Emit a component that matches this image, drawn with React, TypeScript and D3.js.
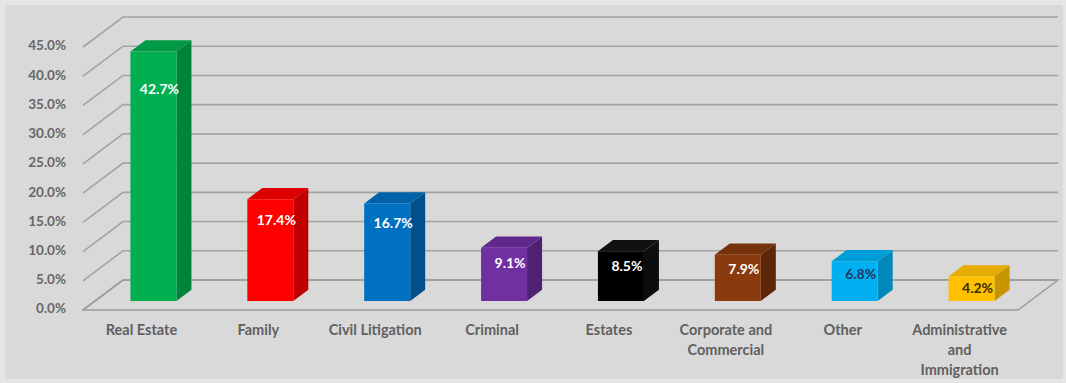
import React from "react";
import * as d3 from "d3";

const categories = [
  "Real Estate",
  "Family",
  "Civil Litigation",
  "Criminal",
  "Estates",
  "Corporate and Commercial",
  "Other",
  "Administrative and Immigration",
];
const categoryLines = [
  ["Real Estate"],
  ["Family"],
  ["Civil Litigation"],
  ["Criminal"],
  ["Estates"],
  ["Corporate and", "Commercial"],
  ["Other"],
  ["Administrative", "and", "Immigration"],
];
const values = [42.7, 17.4, 16.7, 9.1, 8.5, 7.9, 6.8, 4.2];
const frontColors = ["#00b050", "#ff0000", "#0070c0", "#7030a0", "#000000", "#8a3b0e", "#00b0f0", "#ffc000"];
const sideColors = ["#00843c", "#c00000", "#00508c", "#4e2173", "#0d0d0d", "#5c2608", "#0088bb", "#c79600"];
const topColors = ["#009944", "#dd0000", "#0062a8", "#60288c", "#111111", "#76320b", "#009ed8", "#e6ad00"];
const labelColors = ["#ffffff", "#ffffff", "#ffffff", "#ffffff", "#ffffff", "#ffffff", "#1f3864", "#3b2a00"];
const yTicks = [0, 5, 10, 15, 20, 25, 30, 35, 40, 45];

const W = 1066;
const H = 383;
const FRONT_LEFT = 83;
const FRONT_RIGHT = 1018;
const FLOOR_FRONT_Y = 310;
const DEPTH_X = 40;
const DEPTH_Y = -30;
const BAR_D0 = 0.3;
const BAR_D1 = 0.675;
const BAR_W = 46;

export default function App() {
  const x = d3.scaleBand<string>().domain(categories).range([FRONT_LEFT, FRONT_RIGHT]).padding(0);
  const y = d3.scaleLinear().domain([0, 45]).range([FLOOR_FRONT_Y, 47]);
  const P = (px: number, v: number, d: number): [number, number] => [px + d * DEPTH_X, y(v) + d * DEPTH_Y];
  const pts = (arr: [number, number][]) => arr.map((p) => p.join(",")).join(" ");
  const font = "Lato, 'Open Sans', sans-serif";

  return (
    <div style={{ width: W, height: H, position: "absolute", left: 0, top: 0 }}>
      <svg width={W} height={H} style={{ display: "block" }}>
        <rect x={0} y={0} width={W} height={H} fill="#e6e6e6" />
        <rect x={5} y={5} width={1058} height={374} fill="#d9d9d9" />
        {/* gridlines: left wall diagonals + back wall horizontals */}
        {yTicks.map((t) => {
          const a = P(FRONT_LEFT, t, 0);
          const b = P(FRONT_LEFT, t, 1);
          const c = P(FRONT_RIGHT, t, 1);
          return (
            <polyline
              key={t}
              points={pts([a, b, c])}
              fill="none"
              stroke="#a3a3a3"
              strokeWidth={1.6}
            />
          );
        })}
        {/* floor outline */}
        <polygon
          points={pts([P(FRONT_LEFT, 0, 0), P(FRONT_RIGHT, 0, 0), P(FRONT_RIGHT, 0, 1), P(FRONT_LEFT, 0, 1)])}
          fill="none"
          stroke="#9a9a9a"
          strokeWidth={1.4}
        />
        {/* y tick labels */}
        {yTicks.map((t) => (
          <text
            key={"yl" + t}
            x={66}
            y={y(t)}
            textAnchor="end"
            dominantBaseline="middle"
            fontFamily={font}
            fontWeight="bold"
            fontSize={13.5}
            fill="#666666"
          >
            {t.toFixed(1) + "%"}
          </text>
        ))}
        {/* bars */}
        {categories.map((c, i) => {
          const cx = (x(c) as number) + x.bandwidth() / 2;
          const x0 = cx - BAR_W / 2;
          const x1 = cx + BAR_W / 2;
          const v = values[i];
          const f0 = P(x0, 0, BAR_D0);
          const f1 = P(x1, 0, BAR_D0);
          const f2 = P(x1, v, BAR_D0);
          const f3 = P(x0, v, BAR_D0);
          const b1 = P(x1, 0, BAR_D1);
          const b2 = P(x1, v, BAR_D1);
          const b3 = P(x0, v, BAR_D1);
          const h = f0[1] - f3[1];
          const lx = (f0[0] + f1[0]) / 2 + 6;
          const ly = f3[1] + 10 + 0.115 * h;
          return (
            <g key={c}>
              <polygon points={pts([f1, b1, b2, f2])} fill={sideColors[i]} />
              <polygon points={pts([f3, f2, b2, b3])} fill={topColors[i]} />
              <polygon points={pts([f0, f1, f2, f3])} fill={frontColors[i]} />
              <text
                x={lx}
                y={ly}
                textAnchor="middle"
                dominantBaseline="middle"
                fontFamily={font}
                fontWeight="bold"
                fontSize={14}
                fill={labelColors[i]}
              >
                {v.toFixed(1) + "%"}
              </text>
            </g>
          );
        })}
        {/* category labels */}
        {categories.map((c, i) => {
          const cx = (x(c) as number) + x.bandwidth() / 2;
          return (
            <text
              key={"cl" + c}
              textAnchor="middle"
              fontFamily={font}
              fontWeight="bold"
              fontSize={14.5}
              fill="#606060"
            >
              {categoryLines[i].map((line, k) => (
                <tspan key={k} x={cx} y={331 + k * 20} dominantBaseline="middle">
                  {line}
                </tspan>
              ))}
            </text>
          );
        })}
      </svg>
    </div>
  );
}
